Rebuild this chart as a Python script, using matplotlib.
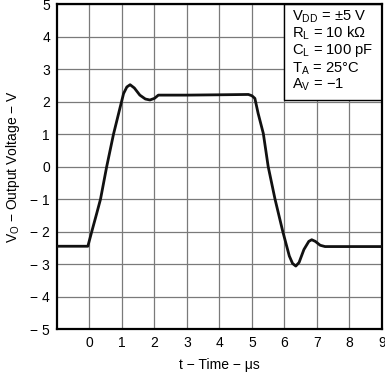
import matplotlib
matplotlib.use('Agg')
import matplotlib.pyplot as plt
from matplotlib.patches import Rectangle

plt.rcParams['font.family'] = ['Liberation Sans', 'DejaVu Sans']
plt.rcParams['mathtext.default'] = 'regular'

# inverting large-signal pulse response
t_us = [-1.0, -0.05, 0.07, 0.22, 0.34, 0.53, 0.74, 0.95, 1.05, 1.15, 1.25,
        1.38, 1.55, 1.72, 1.86, 2.0, 2.12, 3.0, 4.0, 4.89, 5.0, 5.09, 5.19,
        5.35, 5.5, 5.71, 5.95, 6.15, 6.25, 6.35, 6.45, 6.6, 6.75, 6.84,
        6.95, 7.1, 7.25, 9.0]
vo = [-2.45, -2.45, -2.0, -1.45, -1.0, 0.0, 1.0, 1.85, 2.25, 2.45, 2.52,
      2.42, 2.2, 2.08, 2.05, 2.1, 2.2, 2.2, 2.21, 2.22, 2.18, 2.1, 1.64,
      1.02, 0.0, -1.0, -2.0, -2.75, -2.98, -3.06, -2.95, -2.55, -2.3, -2.25,
      -2.3, -2.42, -2.46, -2.46]

xticks = list(range(0, 10))
yticks = list(range(-5, 6))
ytick_labels = ['− 5', '− 4', '− 3', '− 2', '− 1', '0', '1', '2', '3', '4', '5']
conditions = ['V$_{DD}$ = ±5 V', 'R$_{L}$ = 10 kΩ', 'C$_{L}$ = 100 pF',
              'T$_{A}$ = 25°C', 'A$_{V}$ = −1']

fig = plt.figure(figsize=(3.85, 3.74), dpi=100)
ax = fig.add_axes([0.148, 0.120, 0.844, 0.869])

ax.set_xlim(-1, 9)
ax.set_ylim(-5, 5)
ax.set_xticks(xticks)
ax.set_xticklabels([str(x) for x in xticks])
ax.set_yticks(yticks)
ax.set_yticklabels(ytick_labels)
ax.tick_params(length=0, labelsize=10, pad=5)

# grid incl. the unlabelled x=-1 line (it's the left spine anyway)
ax.grid(True, color='#7a7a7a', linewidth=0.9)
ax.set_axisbelow(True)
for s in ax.spines.values():
    s.set_linewidth(1.6)
    s.set_color('black')

ax.plot(t_us, vo, color='#111111', linewidth=2.0, zorder=3,
        solid_joinstyle='round')

# conditions box in the top-right corner
box = Rectangle((6.0, 2.05), 3.0, 2.95, facecolor='white',
                edgecolor='black', linewidth=1.0, zorder=2)
ax.add_patch(box)
ys = [4.61, 4.10, 3.58, 3.02, 2.51]
for txt, y in zip(conditions, ys):
    ax.text(6.22, y, txt, fontsize=10.6, va='center', ha='left', zorder=4)

ax.set_xlabel('t − Time − μs', fontsize=10, labelpad=6)
ax.set_ylabel('V$_{O}$ − Output Voltage − V', fontsize=10, labelpad=6)

fig.savefig('out.png', dpi=100)
